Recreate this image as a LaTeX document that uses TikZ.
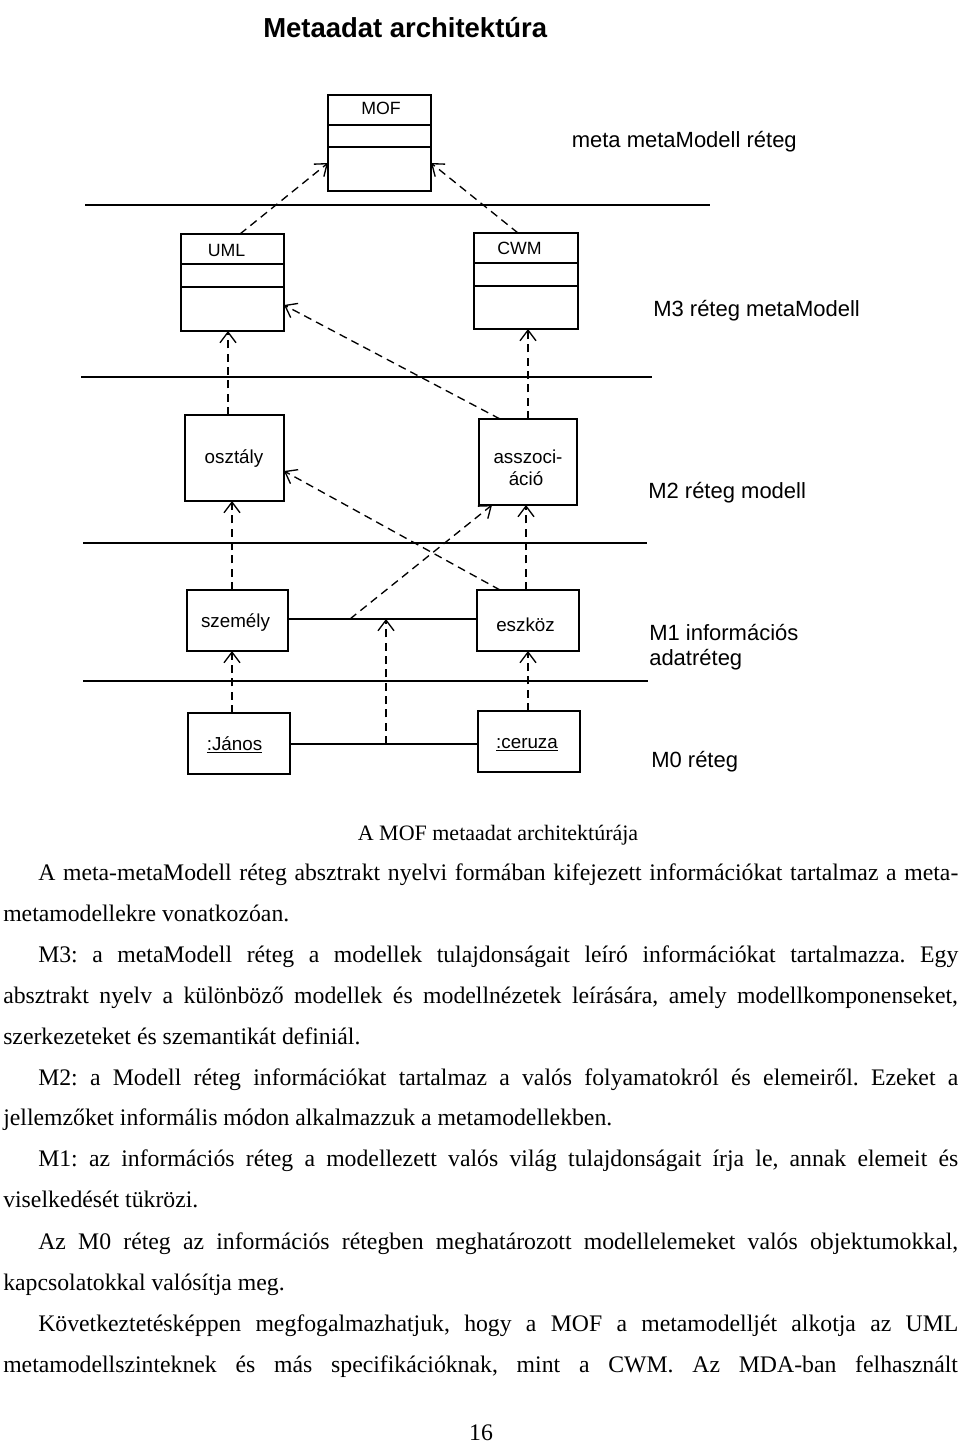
\documentclass[tikz,border=0pt]{standalone}
\usepackage{fontspec}
\setmainfont{Liberation Serif}
\newfontfamily\arial{Liberation Sans}
\usetikzlibrary{arrows.meta,calc}
\frenchspacing
\begin{document}
\begin{tikzpicture}[x=0.75pt,y=-0.75pt,
  box/.style={draw,line width=1.4pt,inner sep=0pt,outer sep=0pt},
  sz/.style 2 args={minimum width=#1*0.75pt,minimum height=#2*0.75pt},
  sep/.style={line width=1.4pt},
  layer/.style={line width=1.1pt},
  solidlink/.style={line width=1.1pt},
  dep/.style={line width=1pt,dash pattern=on 6pt off 4pt,
    -{Straight Barb[length=8pt,width=12pt,line width=1pt]}},
  lbl/.style={font=\arial\fontsize{14.1}{16}\selectfont,inner sep=0pt,anchor=base},
  cls/.style={font=\arial\fontsize{13.3}{15}\selectfont,inner sep=0pt,anchor=base},
  layerlbl/.style={font=\arial\fontsize{16.5}{19}\selectfont,anchor=base west,inner sep=0pt},
  body/.style={font=\fontsize{17.8}{20}\selectfont,anchor=base west,inner sep=0pt},
]
\useasboundingbox (0,0) rectangle (960,1444);

% title
\node[font=\arial\bfseries\fontsize{20.6}{24}\selectfont,anchor=base west,inner sep=0pt] (title) at (263,38) {Metaadat architektúra};

% layer lines
\draw[layer] (85,205) -- (710,205);
\draw[layer] (81,377) -- (652,377);
\draw[layer] (83,543) -- (647,543);
\draw[layer] (83,681) -- (648,681);

% layer labels
\node[layerlbl] (lm) at (571.5,148) {meta metaModell réteg};
\node[layerlbl] (l3) at (653,316) {M3 réteg metaModell};
\node[layerlbl] (l2) at (648,498) {M2 réteg modell};
\node[layerlbl] (l1a) at (649,640) {M1 információs};
\node[layerlbl] (l1b) at (649,665) {adatréteg};
\node[layerlbl] (l0) at (651,767) {M0 réteg};

% class boxes
\node[box,sz={103}{96}] (mof) at (379.5,143) {};
\draw[sep] (mof.west |- 0,125) -- (mof.east |- 0,125);
\draw[sep] (mof.west |- 0,147) -- (mof.east |- 0,147);
\node[cls] (moft) at (381,115) {MOF};

\node[box,sz={103}{97}] (uml) at (232.5,282.5) {};
\draw[sep] (uml.west |- 0,264) -- (uml.east |- 0,264);
\draw[sep] (uml.west |- 0,287) -- (uml.east |- 0,287);
\node[cls] (umlt) at (226.5,257) {UML};

\node[box,sz={104}{96}] (cwm) at (526,281) {};
\draw[sep] (cwm.west |- 0,263) -- (cwm.east |- 0,263);
\draw[sep] (cwm.west |- 0,286) -- (cwm.east |- 0,286);
\node[cls] (cwmt) at (519.5,255) {CWM};

% model boxes
\node[box,sz={99}{86}] (osz) at (234.5,458) {};
\node[lbl] (oszt) at (234,463) {osztály};
\node[box,sz={98}{86}] (asz) at (528,462) {};
\node[lbl] (aszt1) at (528,463) {asszoci-};
\node[lbl] (aszt2) at (526,485) {áció};

\node[box,sz={101}{61}] (sze) at (237.5,620.5) {};
\node[lbl] (szet) at (235.5,627) {személy};
\node[box,sz={102}{61}] (esz) at (528,620.5) {};
\node[lbl] (eszt) at (525.5,631) {eszköz};

\node[box,sz={102}{61}] (jan) at (239,743.5) {};
\node[lbl] (jant) at (234.5,750) {\underline{:János}};
\node[box,sz={102}{61}] (cer) at (529,741.5) {};
\node[lbl] (cert) at (527,748) {\underline{:ceruza}};

% solid links
\draw[solidlink] (sze.east |- 0,619) -- (esz.west |- 0,619);
\draw[solidlink] (jan.east |- 0,744) -- (cer.west |- 0,744);
\coordinate (asm) at (386,619);
\coordinate (asq) at (350,619);
\coordinate (lkm) at (386,744);

% dependencies
\draw[dep] (uml.north -| 240,0) -- (mof.west |- 0,163);
\draw[dep] (cwm.north -| 518,0) -- (mof.east |- 0,163);
\draw[dep] (asz.north -| 500,0) -- (uml.east |- 0,305);
\draw[dep] (osz.north -| 228,0) -- (uml.south -| 228,0);
\draw[dep] (asz.north -| 528,0) -- (cwm.south -| 528,0);
\draw[dep] (esz.north -| 500,0) -- (osz.east |- 0,471);
\draw[dep] (asq) -- (asz.south -| 492,0);
\draw[dep] (sze.north -| 232,0) -- (osz.south -| 232,0);
\draw[dep] (esz.north -| 526,0) -- (asz.south -| 526,0);
\draw[dep] (jan.north -| 232,0) -- (sze.south -| 232,0);
\draw[dep] (cer.north -| 528,0) -- (esz.south -| 528,0);
\draw[dep] (lkm) -- (asm);

% text below
\node[font=\fontsize{16.5}{19}\selectfont,anchor=base,inner sep=0pt] (cap) at (498,840) {A MOF metaadat architektúrája};
\node[body] (t1) at (38,880) {\makebox[690pt][s]{A meta-metaModell réteg absztrakt nyelvi formában kifejezett információkat tartalmaz a meta-}};
\node[body] (t2) at (3,921) {metamodellekre vonatkozóan.};
\node[body] (t3) at (38,962) {\makebox[690pt][s]{M3: a metaModell réteg a modellek tulajdonságait leíró információkat tartalmazza. Egy}};
\node[body] (t4) at (3,1003) {\makebox[716pt][s]{absztrakt nyelv a különböző modellek és modellnézetek leírására, amely modellkomponenseket,}};
\node[body] (t5) at (3,1044) {szerkezeteket és szemantikát definiál.};
\node[body] (t6) at (38,1085) {\makebox[690pt][s]{M2: a Modell réteg információkat tartalmaz a valós folyamatokról és elemeiről. Ezeket a}};
\node[body] (t7) at (3,1125) {jellemzőket informális módon alkalmazzuk a metamodellekben.};
\node[body] (t8) at (38,1166) {\makebox[690pt][s]{M1: az információs réteg a modellezett valós világ tulajdonságait írja le, annak elemeit és}};
\node[body] (t9) at (3,1207) {viselkedését tükrözi.};
\node[body] (t10) at (38,1249) {\makebox[690pt][s]{Az M0 réteg az információs rétegben meghatározott modellelemeket valós objektumokkal,}};
\node[body] (t11) at (3,1290) {kapcsolatokkal valósítja meg.};
\node[body] (t12) at (38,1331) {\makebox[690pt][s]{Következtetésképpen megfogalmazhatjuk, hogy a MOF a metamodelljét alkotja az UML}};
\node[body] (t13) at (3,1372) {\makebox[716pt][s]{metamodellszinteknek és más specifikációknak, mint a CWM. Az MDA-ban felhasznált}};
\node[body,anchor=base] (pg) at (481,1440) {16};
\end{tikzpicture}
\end{document}
